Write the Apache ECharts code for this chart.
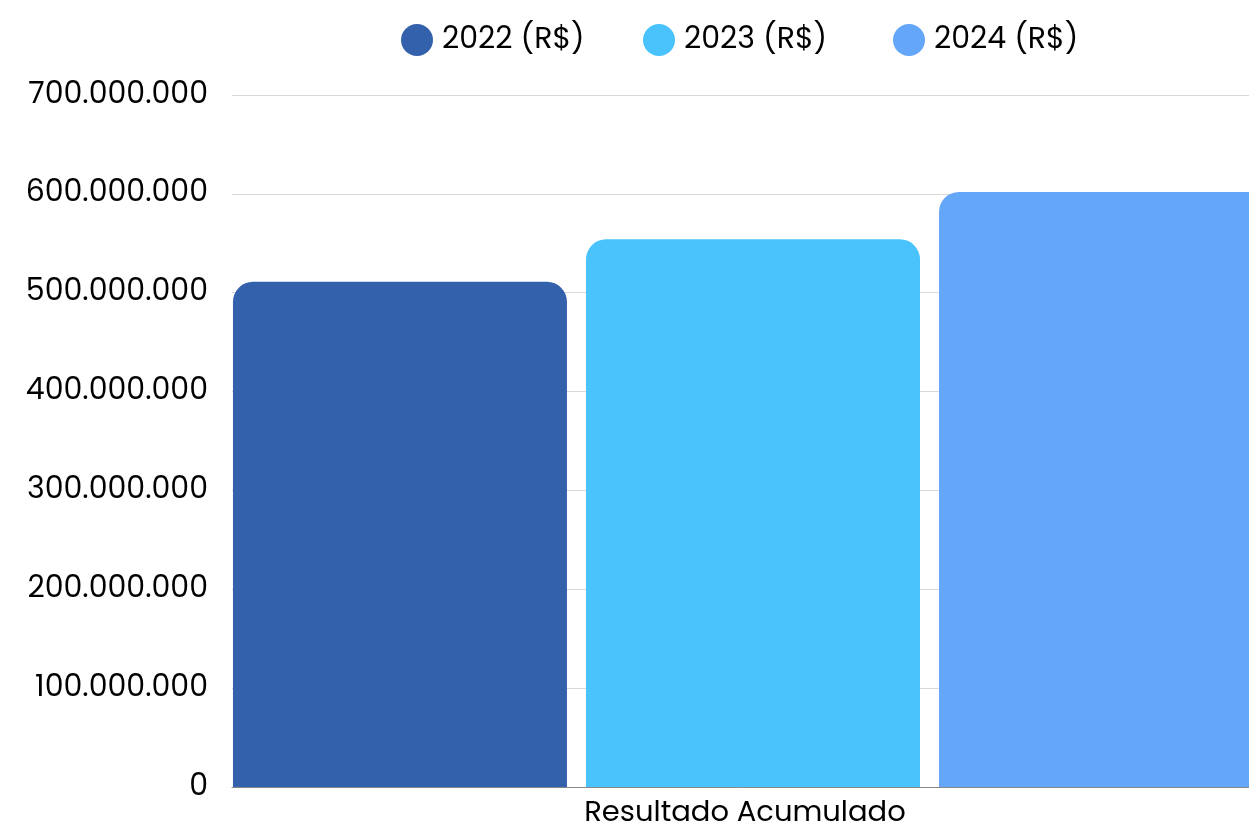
<!DOCTYPE html>
<html>
<head>
<meta charset="UTF-8" />
<script src="https://cdn.jsdelivr.net/npm/echarts@6/dist/echarts.min.js"></script>
<title>Resultado Acumulado</title>
<style>
  html, body { margin: 0; padding: 0; background: #fff; }
  #main { width: 1249px; height: 829px; }
</style>
</head>
<body>
<div id="main"></div>
<script type="text/javascript">
	// dados
	var categories = ['Resultado Acumulado']
	var seriesNames = ['2022 (R$)', '2023 (R$)', '2024 (R$)']
	var values2022 = [511000000]
	var values2023 = [554000000]
	var values2024 = [602000000]
	var colors = ['#3361ab', '#4ac3fd', '#64a6f8']

	function fmt(v) {
		return String(v).replace(/\B(?=(\d{3})+(?!\d))/g, '.')
	}

	var font = 'Poppins, "Open Sans", sans-serif'
	var seriesData = [values2022, values2023, values2024]
	var legendLeft = [401, 643, 893]
	var series = []
	var legends = []
	for (var i = 0; i < seriesNames.length; i++) {
		series.push({
			name : seriesNames[i],
			type : 'bar',
			data : seriesData[i],
			barWidth : 334,
			barGap : '5.7%',
			itemStyle : {
				color : colors[i],
				borderRadius : [20, 20, 0, 0]
			}
		})
		legends.push({
			top : 24,
			left : legendLeft[i],
			padding : 0,
			itemWidth : 32,
			itemHeight : 32,
			icon : 'circle',
			textStyle : { fontFamily : font, fontSize : 30, color : '#000', padding : [0, 0, 0, 4] },
			data : [seriesNames[i]]
		})
	}

	var myChart = echarts.init(document.getElementById('main'))
	myChart.setOption({
		animation : false,
		color : colors,
		legend : legends,
		// a grade passa da borda direita (a terceira barra fica cortada)
		grid : { left : 232, width : 1042, top : 95, bottom : 42, outerBoundsMode : 'none' },
		xAxis : {
			type : 'category',
			data : categories,
			axisTick : { show : false },
			axisLine : { lineStyle : { color : '#888' } },
			axisLabel : { fontFamily : font, fontSize : 29, color : '#000', margin : 12, padding : [0, 16, 0, 0] }
		},
		yAxis : {
			type : 'value',
			min : 0,
			max : 700000000,
			interval : 100000000,
			axisLabel : {
				fontFamily : font, fontSize : 30, color : '#000', margin : 24,
				padding : [4, 0, 0, 0],
				formatter : fmt
			},
			splitLine : { lineStyle : { color : '#d9d9d9' } }
		},
		series : series
	})
</script>
</body>
</html>
